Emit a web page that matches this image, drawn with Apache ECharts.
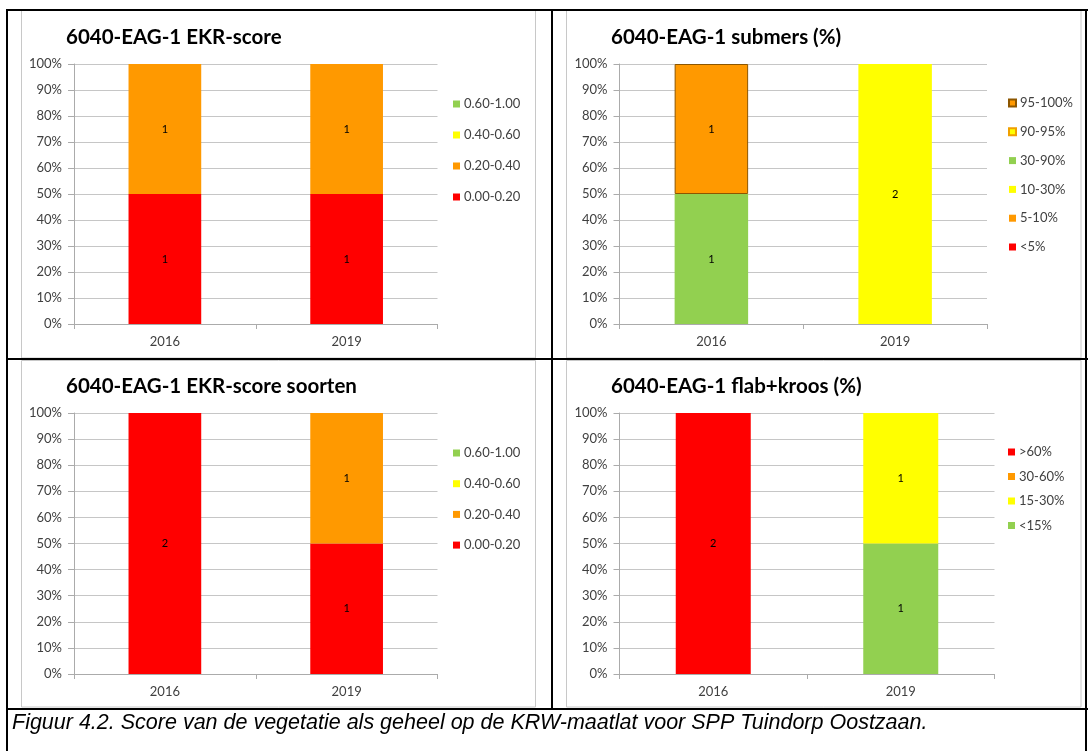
<!DOCTYPE html>
<html>
<head>
<meta charset="utf-8">
<script src="https://cdn.jsdelivr.net/npm/echarts@6/dist/echarts.min.js"></script>
<style>
  html, body { margin: 0; padding: 0; background: #fff; }
  #chart { width: 1088px; height: 751px; }
</style>
</head>
<body>
<div id="chart"></div>
<script>
// Survey years on every x axis
const years = ['2016', '2019'];
const yTicks = [0, 10, 20, 30, 40, 50, 60, 70, 80, 90, 100];

// EKR-score: number of samples per class (bottom of stack first)
const ekrClasses = ['0.00-0.20', '0.20-0.40', '0.40-0.60', '0.60-1.00'];
const ekrCounts = [[1, 1], [1, 1], [0, 0], [0, 0]];

// submers (%) classes and counts
const subClasses = ['<5%', '5-10%', '10-30%', '30-90%', '90-95%', '95-100%'];
const subCounts = [[0, 0], [0, 0], [0, 2], [1, 0], [0, 0], [1, 0]];

// EKR-score soorten
const sortClasses = ['0.00-0.20', '0.20-0.40', '0.40-0.60', '0.60-1.00'];
const sortCounts = [[2, 1], [0, 1], [0, 0], [0, 0]];

// flab+kroos (%)
const flabClasses = ['<15%', '15-30%', '30-60%', '>60%'];
const flabCounts = [[0, 1], [0, 1], [0, 0], [2, 0]];

const titles = [
  '6040-EAG-1 EKR-score',
  '6040-EAG-1 submers (%)',
  '6040-EAG-1 EKR-score soorten',
  '6040-EAG-1 flab+kroos (%)'
];
const caption = 'Figuur 4.2. Score van de vegetatie als geheel op de KRW-maatlat voor SPP Tuindorp Oostzaan.';

const RED = '#FF0000', ORANGE = '#FF9900', YELLOW = '#FFFF00', GREEN = '#92D050';
const scoreStyles = [
  { color: RED }, { color: ORANGE }, { color: YELLOW }, { color: GREEN }
];
const subStyles = [
  { color: RED }, { color: ORANGE }, { color: YELLOW }, { color: GREEN },
  { color: YELLOW, borderColor: '#F0A000', borderWidth: 1 },
  { color: ORANGE, borderColor: '#8C5600', borderWidth: 1 }
];
const flabStyles = [
  { color: GREEN }, { color: YELLOW }, { color: ORANGE }, { color: RED }
];

const FONT = 'Lato, "Open Sans", sans-serif';

const panels = [
  { classes: ekrClasses, counts: ekrCounts, styles: scoreStyles,
    grid: { left: 74, top: 64, width: 363.5, height: 260 },
    title: { left: 66, top: 27 }, legend: { left: 453, top: 97, gap: 17 } },
  { classes: subClasses, counts: subCounts, styles: subStyles,
    grid: { left: 619.5, top: 64, width: 367.5, height: 260 },
    title: { left: 611, top: 27 }, legend: { left: 1008, top: 96, gap: 14.8 } },
  { classes: sortClasses, counts: sortCounts, styles: scoreStyles,
    grid: { left: 74, top: 413, width: 363.5, height: 261 },
    title: { left: 66, top: 376 }, legend: { left: 453, top: 446, gap: 16.7 } },
  { classes: flabClasses, counts: flabCounts, styles: flabStyles,
    grid: { left: 619.5, top: 413, width: 375, height: 261 },
    title: { left: 611, top: 376 }, legend: { left: 1008, top: 445, gap: 10.5 } }
];

const option = {
  animation: false,
  backgroundColor: '#fff',
  title: [], grid: [], xAxis: [], yAxis: [], legend: [], series: [], graphic: []
};

panels.forEach((p, i) => {
  option.title.push({
    text: titles[i], left: p.title.left, top: p.title.top, padding: 0,
    textStyle: { fontFamily: FONT, fontSize: 20.5, fontWeight: 'bold', color: '#000' }
  });
  option.grid.push(Object.assign({ containLabel: false }, p.grid));
  option.xAxis.push({
    type: 'category', gridIndex: i, data: years,
    axisLine: { lineStyle: { color: '#ABABAB', width: 1 } },
    axisTick: { show: true, length: 5, alignWithLabel: false, lineStyle: { color: '#ABABAB' } },
    axisLabel: { fontFamily: FONT, fontSize: 13, color: '#404040', margin: 11 }
  });
  option.yAxis.push({
    type: 'value', gridIndex: i, min: 0, max: 100, interval: 10,
    axisLine: { show: true, lineStyle: { color: '#ABABAB', width: 1 } },
    axisTick: { show: true, length: 6, lineStyle: { color: '#ABABAB' } },
    axisLabel: { fontFamily: FONT, fontSize: 13, color: '#404040', margin: 12,
      formatter: v => yTicks.includes(v) ? v + '%' : '' },
    splitLine: { lineStyle: { color: '#C6C6C6', width: 1 } }
  });
  // totals per year, for the 100% stacking
  const totals = years.map((_, k) => p.counts.reduce((s, c) => s + c[k], 0));
  p.classes.forEach((name, j) => {
    const cnt = p.counts[j];
    option.series.push({
      name: name, type: 'bar', xAxisIndex: i, yAxisIndex: i, stack: 'panel' + i,
      barWidth: '40%',
      itemStyle: Object.assign({ borderWidth: 0 }, p.styles[j]),
      data: cnt.map((c, k) => c > 0 ? { value: c / totals[k] * 100, count: c } : null),
      label: {
        show: true, position: 'inside', fontFamily: FONT, fontSize: 11, color: '#000',
        formatter: prm => prm.data && prm.data.count ? String(prm.data.count) : ''
      }
    });
  });
  option.legend.push({
    orient: 'vertical', left: p.legend.left, top: p.legend.top, padding: 0,
    itemGap: p.legend.gap, itemWidth: 7, itemHeight: 7, icon: 'rect',
    selectedMode: false,
    data: p.classes.slice().reverse(),
    textStyle: { fontFamily: FONT, fontSize: 13, color: '#404040', lineHeight: 14, padding: [0, 0, 0, -1] }
  });
});

// Chart frames (light grey) and table rules (black)
const frames = [
  [21.5, 10, 514, 348], [566.5, 10, 514.5, 348],
  [21.5, 360.5, 514, 346.5], [566.5, 360.5, 514.5, 346.5]
];
frames.forEach(f => option.graphic.push({
  type: 'rect', silent: true,
  shape: { x: f[0], y: f[1], width: f[2], height: f[3] },
  style: { fill: null, stroke: '#C8C8C8', lineWidth: 1 }
}));
const rules = [
  [6, 10, 1088, 10], [7, 9, 7, 751], [552, 9, 552, 709], [1086, 9, 1086, 751],
  [6, 359, 1088, 359], [6, 709, 1088, 709]
];
rules.forEach(r => option.graphic.push({
  type: 'line', silent: true,
  shape: { x1: r[0], y1: r[1], x2: r[2], y2: r[3] },
  style: { stroke: '#000', lineWidth: 2 }
}));
option.graphic.push({
  type: 'text', silent: true, left: 12, top: 712,
  style: { text: caption, font: 'italic 21.5px "Liberation Sans", Arial, sans-serif', fill: '#000' }
});

const chart = echarts.init(document.getElementById('chart'), null, { renderer: 'canvas' });
chart.setOption(option);
</script>
</body>
</html>
